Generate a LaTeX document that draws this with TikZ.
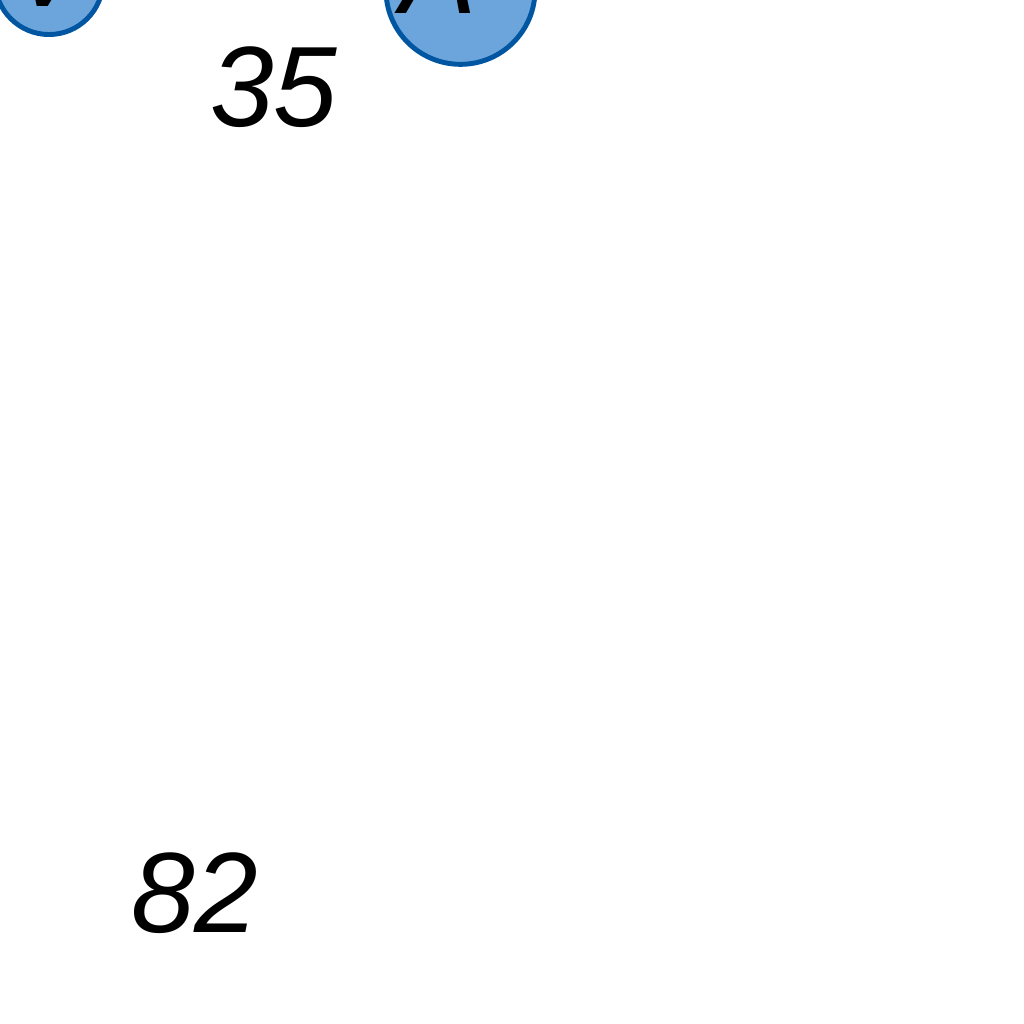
\documentclass[tikz,border=0pt]{standalone}
\usepackage{fontspec}
\setmainfont{Liberation Sans}
\definecolor{nodefill}{RGB}{108,165,220}
\definecolor{nodeline}{RGB}{0,86,160}
\begin{document}
\begin{tikzpicture}[x=0.01cm,y=-0.01cm,
  vertex/.style={circle,draw=nodeline,fill=nodefill,line width=1.4pt,inner sep=0pt},
  weight/.style={inner sep=0pt,font=\fontsize{32.5}{39}\selectfont\itshape,anchor=base},
  vlabel/.style={inner sep=0pt,font=\fontsize{32.5}{39}\selectfont\itshape,anchor=base west}]
\useasboundingbox (0,0) rectangle (1024,1024);
\clip (0,0) rectangle (1024,1024);
\node[vertex,minimum size=1.08cm] (v1) at (49,-19.5) {};
\node[vertex,minimum size=1.49cm] (v2) at (460.5,-10.2) {};
\node[vlabel] (l1) at (10,7) {V};
\node[vlabel] (l2) at (400,13) {A};
\node[weight] (w1) at (274,126) {35};
\node[weight] (w2) at (195,932) {82};
\end{tikzpicture}
\end{document}
